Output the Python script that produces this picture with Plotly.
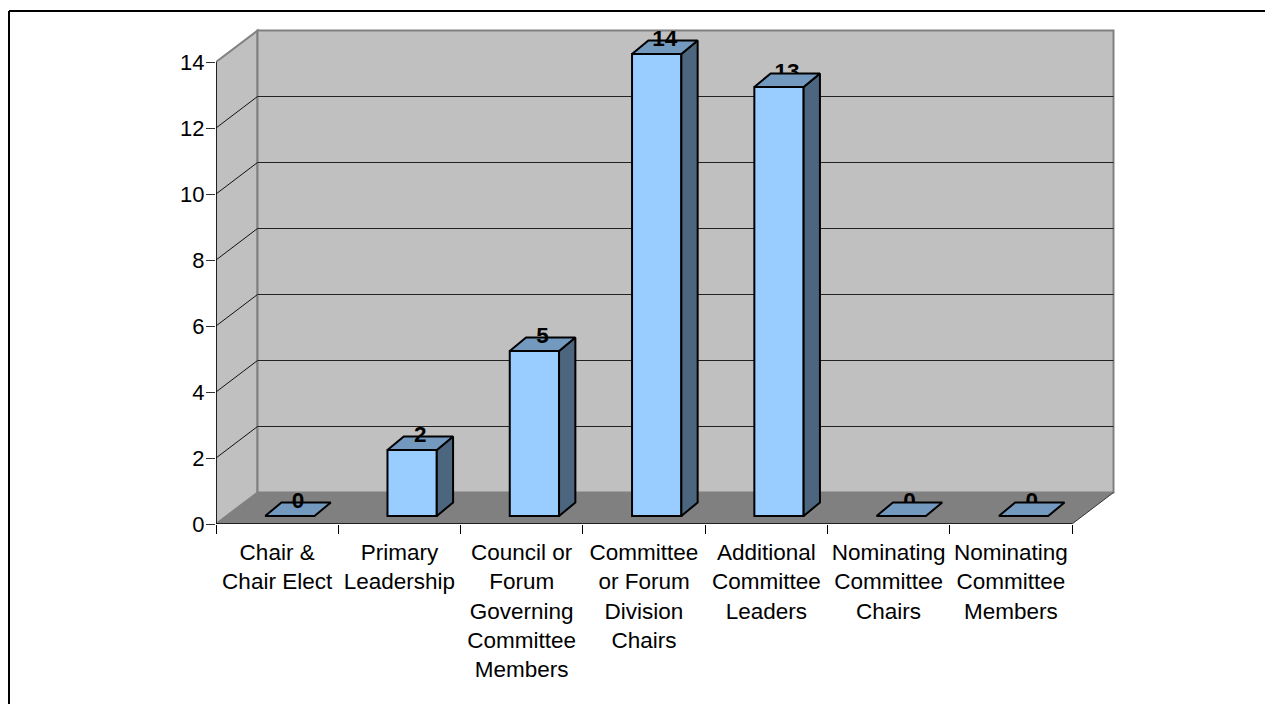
import plotly.graph_objects as go

# Chart content
categories = [
    "Chair &<br>Chair Elect",
    "Primary<br>Leadership",
    "Council or<br>Forum<br>Governing<br>Committee<br>Members",
    "Committee<br>or Forum<br>Division<br>Chairs",
    "Additional<br>Committee<br>Leaders",
    "Nominating<br>Committee<br>Chairs",
    "Nominating<br>Committee<br>Members",
]
values = [0, 2, 5, 14, 13, 0, 0]
# Labels whose text sits behind the column cap rather than over it
label_behind = [False, False, False, False, True, True, True]
y_ticks = [0, 2, 4, 6, 8, 10, 12, 14]

# Layout in pixels
WIDTH, HEIGHT = 1265, 704
LEFT, RIGHT, TOP, BOTTOM = 216, 1116, 28, 524
CELL_PX = 856 / 7
UNIT_PX = 33.0

# Depth projection, in axis units
WALL_DX, WALL_DY = 41.5 / CELL_PX, 31.5 / UNIT_PX
BAR_OFF_X, BAR_OFF_Y = 12.7 / CELL_PX, 8 / UNIT_PX
BAR_DX, BAR_DY = 16.3 / CELL_PX, 13.5 / UNIT_PX
BAR_W = 49.3 / CELL_PX
LABEL_LIFT = 6.5 / UNIT_PX

FONT = "Liberation Sans, Arial, sans-serif"
FRONT, CAP, SIDE = "#99ccff", "#7399bf", "#4d6680"
WALL, FLOOR, EDGE = "#c0c0c0", "#808080", "#808080"

x_min, x_max = -0.5, -0.5 + (RIGHT - LEFT) / CELL_PX
y_min, y_max = 0, (BOTTOM - TOP) / UNIT_PX
x_end = len(categories) - 0.5
centers = list(range(len(categories)))
cell_edges = [c - 0.5 for c in centers] + [x_end]


def px_x(px):
    return (px - LEFT) / (RIGHT - LEFT)


def px_y(px):
    return (BOTTOM - px) / (BOTTOM - TOP)


def path(points):
    return "M" + " L".join(f"{x} {y}" for x, y in points) + " Z"


shapes = [
    # Left wall, back wall and floor
    dict(type="path", layer="below", fillcolor=WALL, line=dict(color=EDGE, width=2),
         path=path([(x_min, 14), (x_min + WALL_DX, 14 + WALL_DY),
                    (x_min + WALL_DX, WALL_DY), (x_min, 0)])),
    dict(type="path", layer="below", fillcolor=WALL, line=dict(color=EDGE, width=2),
         path=path([(x_min + WALL_DX, 14 + WALL_DY), (x_end + WALL_DX, 14 + WALL_DY),
                    (x_end + WALL_DX, WALL_DY), (x_min + WALL_DX, WALL_DY)])),
    dict(type="path", layer="below", fillcolor=FLOOR, line=dict(width=0),
         path=path([(x_min, 0), (x_min + WALL_DX, WALL_DY),
                    (x_end + WALL_DX, WALL_DY), (x_end, 0)])),
    dict(type="line", layer="below", x0=x_end, y0=0, x1=x_end + WALL_DX, y1=WALL_DY,
         line=dict(color="#333333", width=1)),
    # Outer frame: top and left rules only
    dict(type="line", xref="paper", yref="paper", x0=px_x(9), x1=px_x(WIDTH),
         y0=px_y(11), y1=px_y(11), line=dict(color="#000000", width=2)),
    dict(type="line", xref="paper", yref="paper", x0=px_x(9), x1=px_x(9),
         y0=px_y(11), y1=px_y(HEIGHT), line=dict(color="#000000", width=2)),
]

# Gridlines run along the left wall and across the back wall
for v in y_ticks[1:-1]:
    shapes.append(dict(type="line", layer="below", x0=x_min, y0=v,
                       x1=x_min + WALL_DX, y1=v + WALL_DY,
                       line=dict(color="#111111", width=1)))
    shapes.append(dict(type="line", layer="below", x0=x_min + WALL_DX, y0=v + WALL_DY,
                       x1=x_end + WALL_DX, y1=v + WALL_DY,
                       line=dict(color="#222222", width=1)))

fig = go.Figure()

# Column fronts
fig.add_trace(go.Bar(
    x=[c + BAR_OFF_X for c in centers], y=values, base=BAR_OFF_Y, width=BAR_W,
    marker=dict(color=FRONT, line=dict(color="#000000", width=2)),
    hoverinfo="skip", showlegend=False,
))


def label_trace(keep_behind):
    idx = [i for i, b in enumerate(label_behind) if b == keep_behind]
    return go.Scatter(
        x=[centers[i] + BAR_OFF_X + BAR_DX / 2 for i in idx],
        y=[values[i] + BAR_OFF_Y + BAR_DY / 2 + LABEL_LIFT for i in idx],
        text=[f"<b>{values[i]}</b>" for i in idx],
        mode="text", textposition="middle center",
        textfont=dict(family=FONT, size=22.5, color="#000000"),
        cliponaxis=False, hoverinfo="skip", showlegend=False,
    )


fig.add_trace(label_trace(True))

# Column caps and right-hand sides
cap_x, cap_y, side_x, side_y = [], [], [], []
for c, v in zip(centers, values):
    x0 = c + BAR_OFF_X - BAR_W / 2
    x1 = x0 + BAR_W
    y0 = BAR_OFF_Y
    y1 = v + BAR_OFF_Y
    cap_x += [x0, x1, x1 + BAR_DX, x0 + BAR_DX, x0, None]
    cap_y += [y1, y1, y1 + BAR_DY, y1 + BAR_DY, y1, None]
    if v > 0:
        side_x += [x1, x1 + BAR_DX, x1 + BAR_DX, x1, x1, None]
        side_y += [y0, y0 + BAR_DY, y1 + BAR_DY, y1, y0, None]

for xs, ys, color in ((side_x, side_y, SIDE), (cap_x, cap_y, CAP)):
    fig.add_trace(go.Scatter(
        x=xs, y=ys, mode="lines", fill="toself", fillcolor=color,
        line=dict(color="#000000", width=2),
        hoverinfo="skip", showlegend=False,
    ))

fig.add_trace(label_trace(False))

# Axis lines stop at the front of the box, so they are drawn apart from the plot frame
for xs, ys in (([x_min, x_min], [0, 14]), ([x_min, x_end], [0, 0])):
    fig.add_trace(go.Scatter(
        x=xs, y=ys, mode="lines", line=dict(color="#000000", width=1.5),
        cliponaxis=False, hoverinfo="skip", showlegend=False,
    ))

fig.update_layout(
    width=WIDTH, height=HEIGHT, autosize=False,
    margin=dict(l=LEFT, r=WIDTH - RIGHT, t=TOP, b=HEIGHT - BOTTOM, pad=0),
    paper_bgcolor="#ffffff", plot_bgcolor="rgba(0,0,0,0)",
    showlegend=False, shapes=shapes, barmode="overlay",
    font=dict(family=FONT, size=22, color="#000000"),
    xaxis=dict(
        range=[x_min, x_max], tickmode="array", tickvals=centers, ticktext=categories,
        ticks="outside", ticklen=9, tickcolor="rgba(0,0,0,0)", tickangle=0,
        showgrid=False, zeroline=False, showline=False, automargin=False,
        ticklabelstandoff=-1,
        tickfont=dict(family=FONT, size=22.5, color="#000000"),
        minor=dict(tickmode="array", tickvals=cell_edges, ticks="outside",
                   ticklen=9, tickcolor="#000000", tickwidth=1, showgrid=False),
    ),
    yaxis=dict(
        range=[y_min, y_max], tickmode="array", tickvals=y_ticks,
        ticks="outside", ticklen=9, tickcolor="#333333", tickwidth=1,
        showgrid=False, zeroline=False, showline=False, automargin=False,
        ticklabelstandoff=-3,
        tickfont=dict(family=FONT, size=22, color="#000000"),
    ),
)

fig.write_html("out.html", config=dict(displayModeBar=False))
